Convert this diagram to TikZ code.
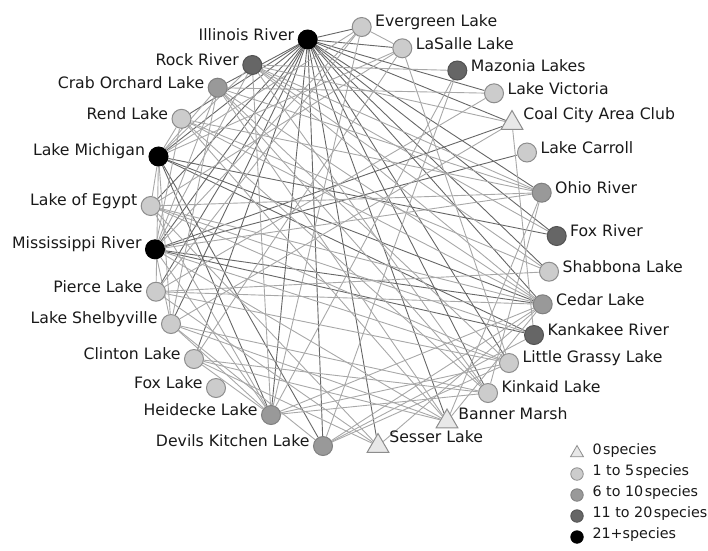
\documentclass[tikz,border=0pt]{standalone}
\usepackage{fontspec}
\setmainfont{DejaVu Sans}
\usetikzlibrary{shapes.geometric}
\pgfdeclarelayer{bg}
\pgfsetlayers{bg,main}
\definecolor{fA}{HTML}{000000}
\definecolor{fB}{HTML}{666666}
\definecolor{fC}{HTML}{999999}
\definecolor{fD}{HTML}{CCCCCC}
\definecolor{fT}{HTML}{E8E8E8}
\definecolor{bd}{HTML}{808080}
\definecolor{eDark}{HTML}{666666}
\definecolor{eLight}{HTML}{A8A8A8}
\tikzset{
  nd/.style={circle, minimum size=19pt, inner sep=0pt, line width=1pt, draw=bd},
  sA/.style={nd, fill=fA, draw=black},
  sB/.style={nd, fill=fB, draw=fB!80!black},
  sC/.style={nd, fill=fC},
  sD/.style={nd, fill=fD, draw=bd!90},
  sT/.style={regular polygon, regular polygon sides=3, minimum size=25pt, inner sep=0pt, fill=fT, draw=bd!90, line width=1pt},
  lab/.style={font=\fontsize{15.7}{18}\selectfont, text=black!90},
  leg/.style={font=\fontsize{14.3}{16}\selectfont, text=black!90, anchor=west},
  edA/.style={draw=eDark, line width=0.9pt},
  edB/.style={draw=eLight, line width=0.9pt},
}
\begin{document}
\begin{tikzpicture}[x=1pt,y=-1pt]
\useasboundingbox (0,0) rectangle (708,550);
% nodes
\node[sA, label={[lab,yshift=5pt]left:Illinois River}] (IR) at (307.7,39.5) {};
\node[sD, label={[lab,yshift=5pt]right:Evergreen Lake}] (EV) at (361.7,27) {};
\node[sD, label={[lab,yshift=5pt]right:LaSalle Lake}] (LS) at (402.3,48.3) {};
\node[sB, label={[lab,yshift=5pt]left:Rock River}] (RR) at (252.3,65) {};
\node[sB, label={[lab,yshift=5pt]right:Mazonia Lakes}] (MZ) at (457.3,70.5) {};
\node[sC, label={[lab,yshift=5pt]left:Crab Orchard Lake}] (CO) at (217.7,87.7) {};
\node[sD, label={[lab,yshift=5pt]right:Lake Victoria}] (LV) at (494,93.3) {};
\node[sD, label={[lab,yshift=5pt]left:Rend Lake}] (RL) at (181.5,118.8) {};
\node[sT, label={[lab,yshift=8pt]right:Coal City Area Club}] (CC) at (512,123) {};
\node[sA, label={[lab,yshift=5pt]left:Lake Michigan}] (LM) at (158.5,156.5) {};
\node[sD, label={[lab,yshift=5pt]right:Lake Carroll}] (LC) at (527,152.5) {};
\node[sC, label={[lab,yshift=5pt]right:Ohio River}] (OR) at (541.7,192.7) {};
\node[sD, label={[lab,yshift=5pt]left:Lake of Egypt}] (LE) at (150.7,206) {};
\node[sB, label={[lab,yshift=5pt]right:Fox River}] (FR) at (556.7,236) {};
\node[sA, label={[lab,yshift=5pt]left:Mississippi River}] (MR) at (155,249.3) {};
\node[sD, label={[lab,yshift=5pt]right:Shabbona Lake}] (SH) at (549,271.7) {};
\node[sD, label={[lab,yshift=5pt]left:Pierce Lake}] (PL) at (156,291.7) {};
\node[sC, label={[lab,yshift=5pt]right:Cedar Lake}] (CE) at (542.7,304.3) {};
\node[sD, label={[lab,yshift=5pt]left:Lake Shelbyville}] (SB) at (171,324) {};
\node[sB, label={[lab,yshift=5pt]right:Kankakee River}] (KK) at (534,335) {};
\node[sD, label={[lab,yshift=5pt]left:Clinton Lake}] (CL) at (194,359) {};
\node[sD, label={[lab,yshift=5pt]right:Little Grassy Lake}] (LG) at (509,363) {};
\node[sD, label={[lab,yshift=5pt]left:Fox Lake}] (FL) at (216,388) {};
\node[sD, label={[lab,yshift=6pt]right:Kinkaid Lake}] (KL) at (488,393) {};
\node[sC, label={[lab,yshift=5pt]left:Heidecke Lake}] (HL) at (271,415) {};
\node[sT, label={[lab,yshift=8pt]right:Banner Marsh}] (BM) at (447,421.5) {};
\node[sC, label={[lab,yshift=5pt]left:Devils Kitchen Lake}] (DK) at (323,446) {};
\node[sT, label={[lab,yshift=9pt]right:Sesser Lake}] (SL) at (378,446) {};
% edges
\begin{pgfonlayer}{bg}
\foreach \a/\b in {IR/EV, IR/LS, IR/LV, IR/CC, IR/OR, IR/FR, IR/CE, IR/LG, IR/BM, IR/SL, IR/DK, IR/HL, IR/CL, IR/SB, IR/PL, IR/MR, IR/LE, IR/LM, IR/RL, IR/CO, IR/KL, IR/SH,
  LM/KK, LM/CE, LM/FR, MR/LC, MR/CE, MR/KK, MR/CC, LM/HL, LM/DK}
  \draw[edA] (\a) -- (\b);
\foreach \a/\b in {LM/RR, LM/CO, LM/RL, LM/LE, LM/PL, LM/SB, LM/EV, LM/LS,
  MR/RR, MR/CO, MR/RL, MR/SB, MR/HL, MR/OR, MR/EV, MR/LG, MR/BM,
  RR/MZ, RR/FR, RR/CC, RR/OR, RR/CE, RR/HL, RR/KL, RR/SH,
  CO/LV, CO/OR, CO/LG, CO/KL, CO/CE, CO/BM, CO/SB,
  RL/OR, RL/KL, RL/SH, RL/BM, RL/CE,
  LE/OR, LE/CE, LE/KK, LE/LG, LE/SL, LE/HL, LE/LS,
  PL/SH, PL/LV, PL/LG, PL/CE, PL/EV, PL/SL,
  SB/CC, SB/HL, SB/KL, SB/BM, SB/DK,
  CL/HL, CL/SL, CL/BM, CL/KL, CL/LS,
  HL/KL, HL/LG, HL/CE, HL/MZ, HL/EV,
  DK/KK, DK/CE, DK/LG, DK/MZ,
  CC/KK, OR/BM, OR/KL, CE/BM, CE/SL, LG/LS, EV/LS}
  \draw[edB] (\a) -- (\b);
\end{pgfonlayer}
% legend
\node[sT, minimum size=15pt, line width=0.8pt] (L0) at (577,453) {};
\node[sD, minimum size=12.5pt, line width=0.8pt] (L1) at (577,474) {};
\node[sC, minimum size=12.5pt, line width=0.8pt] (L2) at (577,495) {};
\node[sB, minimum size=12.5pt, line width=0.8pt] (L3) at (577,516) {};
\node[sA, minimum size=12.5pt, line width=0.8pt] (L4) at (577,537) {};
\node[leg] (T0) at (589,451) {0\hspace{1.5pt}species};
\node[leg] (T1) at (589,472) {1 to 5\hspace{1.5pt}species};
\node[leg] (T2) at (589,493) {6 to 10\hspace{1.5pt}species};
\node[leg] (T3) at (589,514) {11 to 20\hspace{1.5pt}species};
\node[leg] (T4) at (589,535) {21+species};
\end{tikzpicture}
\end{document}
